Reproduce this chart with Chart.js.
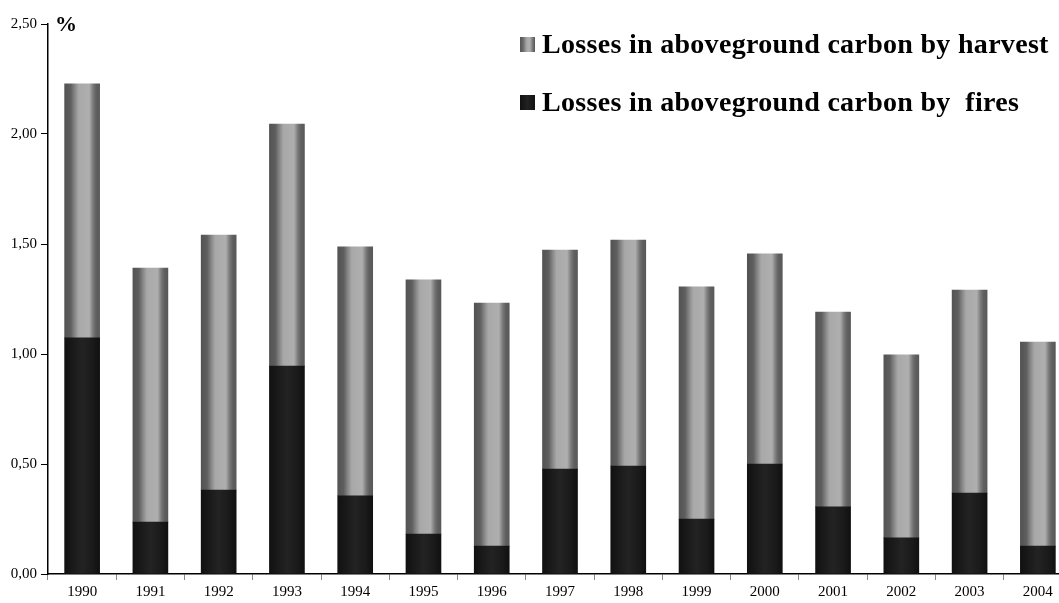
<!DOCTYPE html>
<html>
<head>
<meta charset="utf-8">
<script src="https://cdn.jsdelivr.net/npm/chart.js@4.4.1/dist/chart.umd.min.js"></script>
<style>
  html, body { margin: 0; padding: 0; background: #fff; overflow: hidden; }
  #wrap { position: absolute; left: 0; top: 0; width: 1072px; height: 603px; }
  .lbl { position: absolute; font-family: "Liberation Serif", serif; font-weight: bold; color: #000; white-space: pre; }
  .leg { font-size: 28px; line-height: 28px; letter-spacing: 0.3px; }
  .sq { position: absolute; width: 15px; height: 15px; }
  #sqHarvest { left: 520px; top: 37px; background: linear-gradient(to right, #555 0%, #6a6a6a 20%, #a8a8a8 45%, #b0b0b0 65%, #777 85%, #555 100%); }
  #sqFire { left: 520px; top: 95px; background: linear-gradient(to right, #111 0%, #222 50%, #111 100%); }
</style>
</head>
<body>
<div id="wrap"><canvas id="grafico"></canvas></div>
<div class="lbl" style="left:55px; top:11px; font-size:22px;">%</div>
<div class="sq" id="sqHarvest"></div>
<div class="lbl leg" style="left:542px; top:30px;">Losses in aboveground carbon by harvest</div>
<div class="sq" id="sqFire"></div>
<div class="lbl leg" style="left:542px; top:88px;">Losses in aboveground carbon by  fires</div>
<script>
var anos = ['1990', '1991', '1992', '1993', '1994', '1995', '1996', '1997', '1998', '1999', '2000', '2001', '2002', '2003', '2004']
var perdasFogo = [1.073, 0.236, 0.382, 0.945, 0.355, 0.182, 0.127, 0.477, 0.491, 0.250, 0.500, 0.305, 0.164, 0.368, 0.127]
var perdasColheita = [1.155, 1.155, 1.159, 1.100, 1.132, 1.155, 1.105, 0.995, 1.027, 1.055, 0.955, 0.886, 0.832, 0.923, 0.927]
var ticksY = [0, 0.5, 1, 1.5, 2, 2.5]

var larguraBarra = 35

// gradiente horizontal de cada barra, calculado pela posicao da categoria
function gradiente(ctx, paradas, reserva) {
    var chart = ctx.chart
    var escalaX = chart.scales.x
    if (!chart.chartArea || !escalaX || ctx.dataIndex === undefined) {
        return reserva
    }
    var centro = escalaX.getPixelForValue(ctx.dataIndex)
    var g = chart.ctx.createLinearGradient(centro - larguraBarra / 2, 0, centro + larguraBarra / 2, 0)
    for (var i = 0; i < paradas.length; i++) {
        g.addColorStop(paradas[i][0], paradas[i][1])
    }
    return g
}

var paradasColheita = [[0, '#535353'], [0.17, '#5e5e5e'], [0.3, '#8a8a8a'], [0.4, '#a8a8a8'], [0.7, '#afafaf'], [0.82, '#777'], [0.9, '#606060'], [1, '#585858']]
var paradasFogo = [[0, '#111'], [0.25, '#1a1a1a'], [0.5, '#232323'], [0.8, '#1a1a1a'], [1, '#101010']]

var dados = {
    labels: anos,
    datasets: [{
        label: 'Losses in aboveground carbon by  fires',
        data: perdasFogo,
        backgroundColor: function (ctx) { return gradiente(ctx, paradasFogo, '#1a1a1a') },
        borderWidth: 0,
        barThickness: larguraBarra
    }, {
        label: 'Losses in aboveground carbon by harvest',
        data: perdasColheita,
        backgroundColor: function (ctx) { return gradiente(ctx, paradasColheita, '#888') },
        borderWidth: 0,
        barThickness: larguraBarra
    }]
}

var fonteEixo = { family: '"Liberation Serif", serif', size: 15 }

const config = {
    type: 'bar',
    data: dados,
    options: {
        responsive: true,
        maintainAspectRatio: false,
        animation: false,
        layout: { padding: { top: 24, left: 0, right: 0, bottom: 0 } },
        plugins: {
            legend: { display: false },
            tooltip: { enabled: false }
        },
        scales: {
            x: {
                stacked: true,
                grid: { display: true, drawOnChartArea: false, drawTicks: true, tickLength: 6, color: '#888', offset: true },
                border: { display: true, color: '#000', width: 1.5 },
                ticks: { color: '#000', font: fonteEixo, padding: 3, maxRotation: 0, autoSkip: false },
                afterFit: function (s) { s.height = 29 }
            },
            y: {
                stacked: true,
                min: 0,
                max: 2.5,
                afterBuildTicks: function (s) { s.ticks = ticksY.map(function (v) { return { value: v } }) },
                grid: { display: true, drawOnChartArea: false, drawTicks: true, tickLength: 7, color: '#000' },
                border: { display: true, color: '#000', width: 1.5 },
                ticks: {
                    color: '#000',
                    font: fonteEixo,
                    padding: 4,
                    callback: function (v) { return Number(v).toFixed(2).replace('.', ',') }
                },
                afterFit: function (s) { s.width = 48 }
            }
        }
    }
}

var myChart = new Chart(document.getElementById('grafico'), config)
</script>
</body>
</html>
